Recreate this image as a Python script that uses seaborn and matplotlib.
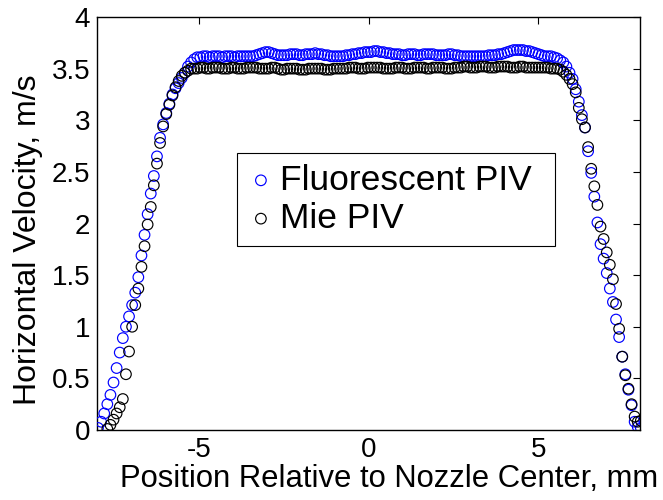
import numpy as np
import pandas as pd
import matplotlib
matplotlib.use("Agg")
import matplotlib.pyplot as plt
import seaborn as sns

# ---- data ----
x_start, x_step, n_pts = -7.97, 0.0914, 176   # sampling grid of the PIV profile (mm)
position = np.round(x_start + x_step * np.arange(n_pts), 3)

fluorescent_piv = [
    0.02, 0.08, 0.16, 0.25, 0.34, 0.46, 0.60, 0.75, 0.89, 1.00, 1.10, 1.21, 1.33, 1.48, 1.69, 1.89,
    2.09, 2.29, 2.46, 2.65, 2.83, 2.96, 3.07, 3.16, 3.25, 3.31, 3.36, 3.41, 3.46, 3.52, 3.56, 3.59,
    3.61, 3.61, 3.62, 3.62, 3.61, 3.62, 3.62, 3.62, 3.61, 3.62, 3.62, 3.62, 3.61, 3.62, 3.62, 3.62, 3.62, 3.62,
    3.62, 3.63, 3.64, 3.65, 3.66, 3.66, 3.65, 3.64, 3.63, 3.63,
    3.63, 3.63, 3.64, 3.64, 3.64, 3.63, 3.63, 3.64, 3.64, 3.64, 3.65, 3.64, 3.64, 3.63, 3.63, 3.62, 3.62, 3.62,
    3.62, 3.62, 3.63, 3.63, 3.64, 3.64, 3.65, 3.65, 3.66,
    3.66, 3.66, 3.67, 3.67, 3.66, 3.66, 3.65, 3.65, 3.64,
    3.64, 3.64, 3.63, 3.63, 3.64, 3.64, 3.64, 3.63, 3.63, 3.64, 3.64, 3.64, 3.64, 3.63, 3.63,
    3.63, 3.63, 3.64, 3.64, 3.63, 3.63, 3.62, 3.62, 3.62, 3.62, 3.62, 3.62, 3.62, 3.62, 3.62, 3.63, 3.63,
    3.63, 3.64, 3.64, 3.65, 3.66, 3.67, 3.68, 3.68, 3.68, 3.68, 3.67, 3.67,
    3.66, 3.65, 3.64, 3.63, 3.62,
    3.62, 3.62, 3.61, 3.60, 3.58, 3.56, 3.52, 3.46, 3.40, 3.30, 3.18, 3.05, 2.93, 2.70, 2.49, 2.26,
    2.01, 1.80, 1.66, 1.52, 1.37, 1.24, 1.07, 0.90, 0.71, 0.54, 0.39, 0.24, 0.08, 0.03, 0.02,
]

mie_piv = [
    np.nan, np.nan, np.nan,
    0.01, 0.05, 0.10, 0.16, 0.22, 0.30, 0.54, 0.76, 1.00, 1.21, 1.37, 1.58, 1.78, 1.99, 2.16, 2.37,
    2.58, 2.78, 2.94, 3.06, 3.15, 3.24, 3.32, 3.38, 3.43, 3.46, 3.48, 3.50, 3.50,
    3.50, 3.51, 3.51, 3.50, 3.50, 3.51, 3.51, 3.51, 3.50, 3.50, 3.50, 3.51, 3.51, 3.50, 3.50, 3.50, 3.51, 3.51,
    3.51, 3.51, 3.50, 3.50, 3.50, 3.50, 3.51, 3.51, 3.50, 3.49, 3.49, 3.50, 3.50, 3.50, 3.50, 3.49, 3.49, 3.49, 3.50, 3.50,
    3.50, 3.50, 3.50, 3.49, 3.49, 3.49, 3.50, 3.50, 3.50, 3.50, 3.50, 3.51, 3.51, 3.51, 3.50, 3.50, 3.50, 3.51, 3.51, 3.51,
    3.51, 3.51, 3.50, 3.50, 3.50, 3.50, 3.51, 3.51, 3.51, 3.50, 3.50, 3.50, 3.51, 3.51, 3.51, 3.51, 3.50, 3.50, 3.51, 3.51,
    3.51, 3.51, 3.50, 3.50, 3.50, 3.51, 3.51, 3.51, 3.52, 3.52, 3.51, 3.51, 3.51, 3.52, 3.52, 3.52, 3.51, 3.51, 3.51, 3.52,
    3.52, 3.52, 3.52, 3.51, 3.51, 3.51, 3.52, 3.52, 3.51, 3.51, 3.51, 3.51, 3.51, 3.51, 3.51, 3.51, 3.50, 3.50,
    3.50, 3.49, 3.47, 3.44, 3.40, 3.35, 3.27, 3.12, 3.01, 2.93, 2.74, 2.53, 2.36, 2.18, 1.97, 1.85,
    1.72, 1.60, 1.46, 1.22, 0.98, 0.71, 0.53, 0.40, 0.25, 0.13, 0.08, 0.09,
]

series_names = ["Fluorescent PIV", "Mie PIV"]
series_colors = ["#0000ff", "#000000"]

x_ticks = [-5, 0, 5]
x_tick_labels = ["-5", "0", "5"]
y_ticks = [0, 0.5, 1, 1.5, 2, 2.5, 3, 3.5, 4]
y_tick_labels = ["0", "0.5", "1", "1.5", "2", "2.5", "3", "3.5", "4"]

x_label = "Position Relative to Nozzle Center, mm"
y_label = "Horizontal Velocity, m/s"

# ---- figure ----
sns.set_theme(style="white")
plt.rcParams["font.family"] = ["Liberation Sans", "DejaVu Sans"]
plt.rcParams["text.color"] = "black"

fig = plt.figure(figsize=(6.63, 5.0), dpi=100)
ax = fig.add_axes([97 / 663, 1 - 430 / 500, 543 / 663, 413 / 500])

for name, vals, col in zip(series_names, [fluorescent_piv, mie_piv], series_colors):
    df = pd.DataFrame({"x": position, "y": vals}).dropna()
    sns.scatterplot(data=df, x="x", y="y", ax=ax, marker="o", s=58,
                    facecolors="none", edgecolor=col, linewidth=0.85,
                    label=name, legend=False, zorder=3)

ax.set_xlim(-8, 8)
ax.set_ylim(0, 4)
ax.set_xticks(x_ticks)
ax.set_xticklabels(x_tick_labels)
ax.set_yticks(y_ticks)
ax.set_yticklabels(y_tick_labels)
ax.tick_params(direction="in", length=5, width=0.8, colors="black",
               labelsize=20, top=True, right=True, pad=5)

for sp in ax.spines.values():
    sp.set_visible(True)
    sp.set_color("black")
    sp.set_linewidth(1.0)

ax.set_xlabel(x_label, fontsize=22.3, color="black")
ax.set_ylabel(y_label, fontsize=23, color="black")
ax.xaxis.set_label_coords((389 - 97) / 543, (430 - 464) / 413)
ax.yaxis.set_label_coords((43 - 97) / 543, 0.46)

handles = ax.collections[:2]
lx0, lx1 = (237 - 97) / 543, (555 - 97) / 543
ly0, ly1 = (430 - 243) / 413, (430 - 153) / 413
leg = ax.legend(handles, series_names, loc="upper left",
                bbox_to_anchor=(lx0, ly0, lx1 - lx0, ly1 - ly0),
                mode="expand", borderaxespad=0.0,
                fontsize=25.5, frameon=True, fancybox=False, framealpha=1,
                edgecolor="black", borderpad=0.3, handletextpad=0.15,
                handlelength=0.75, labelspacing=0.15, markerscale=1.0,
                labelcolor="black")
leg.get_frame().set_linewidth(0.8)

fig.savefig("out.png", dpi=100)
